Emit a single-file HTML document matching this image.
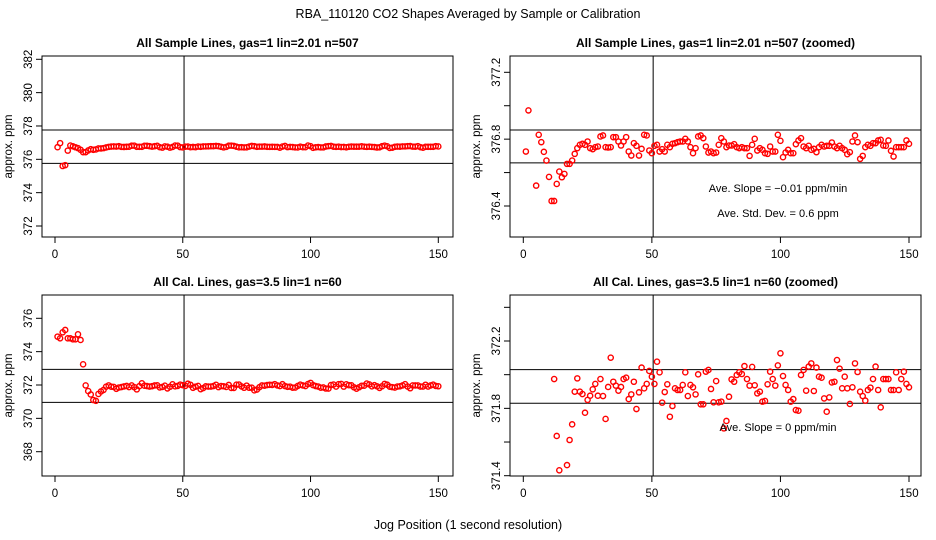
<!DOCTYPE html>
<html><head><meta charset="utf-8"><style>
html,body{margin:0;padding:0;background:#fff;}
svg{display:block;font-family:"Liberation Sans",Helvetica,Arial,sans-serif;}
</style></head><body>
<svg id="chart" width="936" height="540" viewBox="0 0 936 540" xmlns="http://www.w3.org/2000/svg">
<text x="468" y="18" text-anchor="middle" font-size="12.5">RBA_110120  CO2 Shapes Averaged by Sample or Calibration</text>
<text x="468" y="529" text-anchor="middle" font-size="12.5">Jog Position (1 second resolution)</text>
</svg>
<script>
const sampleValues=[376.726,376.972,375.60,375.65,376.522,376.826,376.782,376.724,376.672,376.574,376.43,376.43,376.532,376.606,376.572,376.592,376.652,376.652,376.672,376.712,376.746,376.766,376.772,376.766,376.786,376.746,376.74,376.752,376.756,376.816,376.822,376.752,376.75,376.752,376.812,376.812,376.786,376.762,376.786,376.812,376.726,376.702,376.776,376.76,376.702,376.742,376.826,376.822,376.732,376.716,376.76,376.766,376.726,376.74,376.726,376.766,376.752,376.772,376.776,376.782,376.786,376.786,376.802,376.786,376.752,376.716,376.746,376.816,376.822,376.806,376.756,376.72,376.726,376.716,376.72,376.766,376.806,376.786,376.752,376.762,376.762,376.77,376.752,376.746,376.752,376.746,376.746,376.70,376.766,376.802,376.732,376.746,376.736,376.716,376.712,376.756,376.726,376.726,376.826,376.79,376.692,376.72,376.736,376.716,376.716,376.77,376.792,376.806,376.756,376.746,376.76,376.736,376.742,376.722,376.752,376.766,376.756,376.76,376.76,376.78,376.756,376.746,376.76,376.746,376.736,376.71,376.722,376.786,376.822,376.782,376.682,376.70,376.752,376.766,376.76,376.776,376.776,376.792,376.796,376.762,376.76,376.792,376.73,376.696,376.752,376.752,376.752,376.752,376.792,376.772];
const calValues=[374.9,374.8,375.16,375.3,374.8,374.8,374.74,374.74,375.04,374.7,373.24,371.974,371.636,371.432,371.1,371.05,371.463,371.612,371.705,371.899,371.978,371.899,371.885,371.774,371.85,371.875,371.913,371.945,371.875,371.974,371.873,371.737,371.927,372.101,371.958,371.935,371.905,371.927,371.974,371.982,371.855,371.883,371.958,371.796,371.895,372.042,371.919,371.945,372.022,371.988,371.945,372.077,372.014,371.834,371.897,371.943,371.75,371.814,371.919,371.909,371.909,371.939,372.014,371.873,371.939,371.925,371.883,372.002,371.824,371.824,372.018,372.028,371.915,371.836,371.962,371.836,371.84,371.681,371.725,371.869,371.972,371.958,371.998,372.014,372.004,372.051,371.974,371.935,372.046,371.937,371.889,371.899,371.84,371.844,371.943,372.018,371.974,371.935,372.055,372.127,371.992,371.939,371.909,371.84,371.855,371.79,371.786,371.998,372.028,371.905,372.048,372.067,371.903,372.042,371.988,371.982,371.859,371.78,371.865,371.954,371.958,372.087,372.036,371.919,371.988,371.919,371.826,371.925,372.067,372.016,371.899,371.873,371.846,371.909,371.923,371.974,372.048,371.909,371.806,371.974,371.974,371.974,371.909,371.909,372.014,371.909,371.974,372.018,371.945,371.925];
const xTicks=[0,50,100,150];
const tlTicks=[372,374,376,378,380,382];
const trTicks=[376.4,376.6,376.8,377.0,377.2];
const trLabels=["376.4","","376.8","","377.2"];
const blTicks=[368,370,372,374,376];
const brTicks=[371.4,371.6,371.8,372.0,372.2,372.4];
const brLabels=["371.4","","371.8","","372.2",""];
const tlLines=[377.76,375.76];
const trLines=[376.855,376.658];
const blLines=[372.94,370.96];
const brLines=[372.03,371.83];
const vLine=[50.5];

const svg=document.getElementById('chart');
const NS='http://www.w3.org/2000/svg';
function mk(tag,attrs,parent){const e=document.createElementNS(NS,tag);for(const k in attrs)e.setAttribute(k,attrs[k]);(parent||svg).appendChild(e);return e;}

function panel(p){
  const g=mk('g',{});
  
  
  const xs=v=>p.x0+(v-0)*(p.x150-p.x0)/150;
  const ys=v=>p.yA+(p.vA-v)*(p.yB-p.yA)/(p.vA-p.vB);
  const cid='clip-'+p.name;
  const cp=mk('clipPath',{id:cid},g);
  mk('rect',{x:p.L,y:p.T,width:p.R-p.L,height:p.B-p.T},cp);
  const t=mk('text',{x:(p.L+p.R)/2,y:p.T-9,'text-anchor':'middle','font-size':'12','font-weight':'bold'},g);
  t.textContent=p.title;
  
  
  const box=mk('rect',{x:p.L,y:p.T,width:p.R-p.L,height:p.B-p.T,fill:'none',stroke:'#000','stroke-width':1},g);
  
  
  xTicks.forEach(v=>{
    const x=xs(v);
    mk('line',{x1:x,x2:x,y1:p.B,y2:p.B+6,stroke:'#000'},g);
    const tx=mk('text',{x:x,y:p.B+21,'text-anchor':'middle','font-size':'11.5'},g);
    tx.textContent=v;
    
    
  });
  p.yTicks.forEach((v,i)=>{
    const y=ys(v);
    mk('line',{x1:p.L-6,x2:p.L,y1:y,y2:y,stroke:'#000'},g);
    const lab=p.yLabels?p.yLabels[i]:String(v);
    if(lab){
      const tx0=p.L-10;
      const ty=mk('text',{x:tx0,y:y,'text-anchor':'middle','font-size':'11.5',transform:`rotate(-90 ${tx0} ${y})`},g);
      ty.textContent=lab;
      
      
    }
  });
  const ax=p.L-30;
  const yl=mk('text',{x:ax,y:(p.T+p.B)/2,'text-anchor':'middle','font-size':'11.5',transform:`rotate(-90 ${ax} ${(p.T+p.B)/2})`},g);
  yl.textContent='approx. ppm';
  
  
  p.hLines.forEach(v=>{
    const l=mk('line',{x1:p.L,x2:p.R,y1:ys(v),y2:ys(v),stroke:'#000','stroke-width':1},g);
    
    
  });
  vLine.forEach(v=>{
    const l=mk('line',{x1:xs(v),x2:xs(v),y1:p.T,y2:p.B,stroke:'#000','stroke-width':1},g);
    
    
  });
  const pg=mk('g',{'clip-path':`url(#${cid})`},g);
  p.data.forEach((v,i)=>{
    const c=mk('circle',{cx:xs(i+1),cy:ys(v),r:2.6,fill:'none',stroke:'#ff0000','stroke-width':1.4},pg);
    
    
  });
  (p.notes||[]).forEach(n=>{
    const tn=mk('text',{x:n.x,y:n.y,'text-anchor':'middle','font-size':'11'},g);
    tn.textContent=n.t;
    
    
  });
}

panel({name:'sample-panel',title:'All Sample Lines, gas=1 lin=2.01 n=507',L:42,R:453,T:56,B:237,x0:55,x150:438.3,vA:382,yA:59.3,vB:372,yB:226,yTicks:tlTicks,hLines:tlLines,data:sampleValues});
panel({name:'sample-zoomed-panel',title:'All Sample Lines, gas=1 lin=2.01 n=507 (zoomed)',L:510,R:921,T:56,B:237,x0:523.3,x150:909,vA:377.2,yA:72.3,vB:376.4,yB:206,yTicks:trTicks,yLabels:trLabels,hLines:trLines,data:sampleValues,notes:[{x:778,y:192,t:'Ave. Slope =  \u22120.01  ppm/min'},{x:778,y:217,t:'Ave. Std. Dev. =  0.6  ppm'}]});
panel({name:'cal-panel',title:'All Cal. Lines, gas=3.5 lin=1 n=60',L:42,R:453,T:295,B:476,x0:55,x150:438.3,vA:376,yA:318.3,vB:368,yB:451.7,yTicks:blTicks,hLines:blLines,data:calValues});
panel({name:'cal-zoomed-panel',title:'All Cal. Lines, gas=3.5 lin=1 n=60 (zoomed)',L:510,R:921,T:295,B:476,x0:523.3,x150:909,vA:372.2,yA:341,vB:371.4,yB:475.7,yTicks:brTicks,yLabels:brLabels,hLines:brLines,data:calValues,notes:[{x:778,y:431,t:'Ave. Slope =  0  ppm/min'}]});
</script>
</body></html>
